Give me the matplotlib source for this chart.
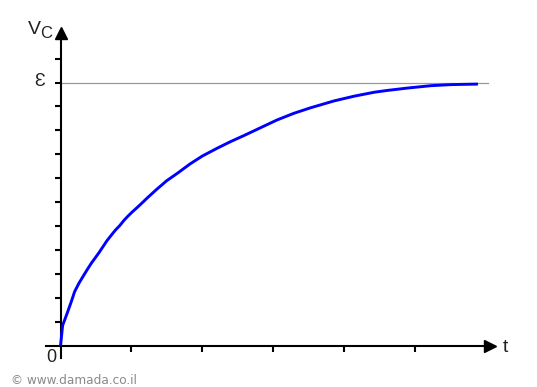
import matplotlib
matplotlib.use("Agg")
import matplotlib.pyplot as plt

# capacitor voltage while charging
# t in units of the x tick spacing, vc as a fraction of the emf
t = [0.0, 0.03, 0.095, 0.152, 0.199, 0.26, 0.316, 0.373, 0.435, 0.492,
     0.543, 0.6, 0.657, 0.719, 0.776, 0.837, 0.894, 0.946, 1.003, 1.06,
     1.121, 1.23, 1.348, 1.499, 1.664, 1.83, 2.004, 2.209, 2.397, 2.586,
     2.752, 2.87, 3.06, 3.295, 3.532, 3.862, 4.146, 4.43, 4.62, 4.904,
     5.234, 5.518, 5.896]
vc = [0.0, 0.078, 0.125, 0.168, 0.206, 0.238, 0.263, 0.288, 0.314,
      0.335, 0.354, 0.377, 0.4, 0.421, 0.44, 0.457, 0.476, 0.491, 0.506,
      0.52, 0.535, 0.563, 0.592, 0.627, 0.658, 0.691, 0.721, 0.75, 0.775,
      0.798, 0.819, 0.834, 0.858, 0.883, 0.904, 0.93, 0.948, 0.963, 0.970,
      0.979, 0.988, 0.992, 0.994]
emf = 1.0
emf_line_end = 6.04
xticks = [1, 2, 3, 4, 5]
yticks = [k / 11 for k in range(1, 13)]

W, H = 537, 387
fig = plt.figure(figsize=(W / 100, H / 100), dpi=100)

# pixel layout of the axes box
x0, x_org, x1 = 45.7, 60.5, 490
y_top, y_org, y_bot = 32.5, 346, 358
px_t, px_v = 70.8, 263.5
ax = fig.add_axes([x0 / W, (H - y_bot) / H, (x1 - x0) / W, (y_bot - y_top) / H])
ax.set_xlim((x0 - x_org) / px_t, (x1 - x_org) / px_t)
ax.set_ylim(-(y_bot - y_org) / px_v, (y_org - y_top) / px_v)

for s in ["top", "right"]:
    ax.spines[s].set_visible(False)
for s in ["bottom", "left"]:
    ax.spines[s].set_position(("data", 0))
    ax.spines[s].set_linewidth(1.5)

ax.set_xticks(xticks)
ax.set_yticks(yticks)
ax.set_xticklabels([])
ax.set_yticklabels([])
ax.tick_params(axis="x", direction="out", length=4, width=1.5)
ax.tick_params(axis="y", direction="out", length=4.5, width=1.5)

# arrow heads
xl, yl = ax.get_xlim(), ax.get_ylim()
ax.plot([xl[1]], [0], marker=">", ms=8, color="k", clip_on=False, zorder=5)
ax.plot([0], [yl[1]], marker="^", ms=8, color="k", clip_on=False, zorder=5)

ax.plot([0, emf_line_end], [emf, emf], color="#999999", lw=0.9, zorder=1)
ax.plot(t, vc, color="#0000ff", lw=2.1, solid_capstyle="butt", zorder=3)

def px(x, y):
    return x / W, 1 - y / H

lab = dict(family="Liberation Sans", color="#222222")
fig.text(*px(28, 34), "V", fontsize=14, va="baseline", **lab)
fig.text(*px(40, 38.5), "C", fontsize=12, va="baseline", **lab)
fig.text(*px(40, 82), "\u0190", fontsize=13, ha="center", va="center", **lab)
fig.text(*px(51.5, 357.5), "0", fontsize=13, ha="center", va="center", **lab)
fig.text(*px(505, 347), "t", fontsize=14, ha="center", va="center", **lab)
fig.text(*px(11, 381), "\u00a9 www.damada.co.il", fontsize=8.7, va="center",
         family="DejaVu Sans", color="#8a8a8a")

fig.savefig("out.png", dpi=100)
